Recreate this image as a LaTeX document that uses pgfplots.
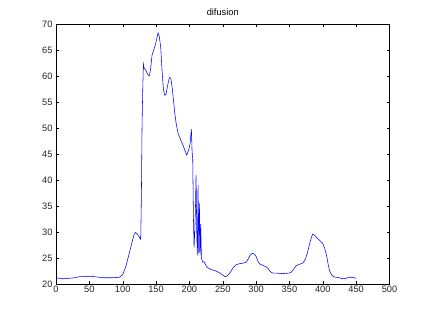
\documentclass[border=0pt]{standalone}
\usepackage{pgfplots}
\pgfplotsset{compat=1.18}
\usepackage{fontspec}
\setmainfont{Liberation Sans}
\begin{document}
\begin{tikzpicture}[x=1bp,y=1bp]
\fill[white] (0,0) rectangle (429,319);
\begin{axis}[
  at={(56bp,35bp)}, anchor=south west,
  scale only axis, width=333.5bp, height=260bp,
  xmin=0, xmax=500, ymin=20, ymax=70,
  xtick={0,50,...,500}, ytick={20,25,...,70},
  tick align=inside, major tick length=3bp,
  axis line style={black, line width=0.5pt},
  tick style={black, line width=0.4pt},
  tick label style={font=\fontsize{9.3}{11}\selectfont, text=black!85},
  /pgf/number format/assume math mode=true,
  xticklabel style={yshift=1bp},
  title={difusion}, title style={font=\fontsize{9.3}{11}\selectfont, yshift=-1bp},
]
\addplot[blue, line width=0.55pt, mark=none] coordinates {
(0,21.2)(5,21.1)(10,21.0)(20,21.1)(28,21.2)(35,21.4)(42,21.4)(50,21.5)(58,21.4)(65,21.3)(70,21.2)(75,21.2)(85,21.2)(95,21.3)
(100,21.8)(103,22.8)(105,23.5)(108,25)(110,26)(113,27.5)(115,28.5)(117,29.5)(119,29.9)(122,29.6)(125,29)(127,28.6)
(128,36.5)(129,50.5)(130,57)(131,62.3)(132,61.6)(135,61)(138,60.2)(140,60)(142,61.5)(144,64)(147,65.2)(150,66.5)(153,68.3)(155,67.5)(157,65.5)
(159,61)(161,57.5)(163,56.3)(165,56.5)(167,58)(170,59.7)(172,59.6)(174,58)(176,55.5)(178,53)(180,51)(183,49)(186,48)(190,46.8)(193,45.8)(196,44.8)
(199,45.8)(201,47)(203,49.8)(204,45.5)(205,44)(206,33)(207,27)(208,30)(209,34)(210,41)(211,30)(212,25.5)(213,39)(214,26)(215,35.5)(216,25.5)(217,31.5)(218,25)
(220,24.2)(222,24.3)(225,23.5)(228,23.1)(232,22.8)(240,22.5)(246,22.1)(250,21.7)(254,21.4)(257,21.6)(260,22)(263,22.6)(266,23.2)(270,23.7)(275,23.9)(280,24)(285,24.2)
(288,24.8)(291,25.5)(294,25.9)(297,25.8)(300,25.3)(303,24.3)(306,23.8)(310,23.6)(315,23.3)(318,23)(321,22.4)(325,22.1)(330,22.1)(340,22.0)(350,22.1)(353,22.3)
(356,22.8)(360,23.5)(365,23.8)(370,24)(374,24.8)(377,26)(380,27.6)(383,29)(385,29.6)(388,29.3)(392,28.8)(396,28.3)(400,27.8)(403,26.8)(406,25.3)(408,23.8)(410,22.6)
(413,21.8)(416,21.4)(420,21.3)(425,21.2)(430,21.0)(435,21.1)(440,21.3)(445,21.3)(450,21.1)
};
\end{axis}
\end{tikzpicture}
\end{document}
